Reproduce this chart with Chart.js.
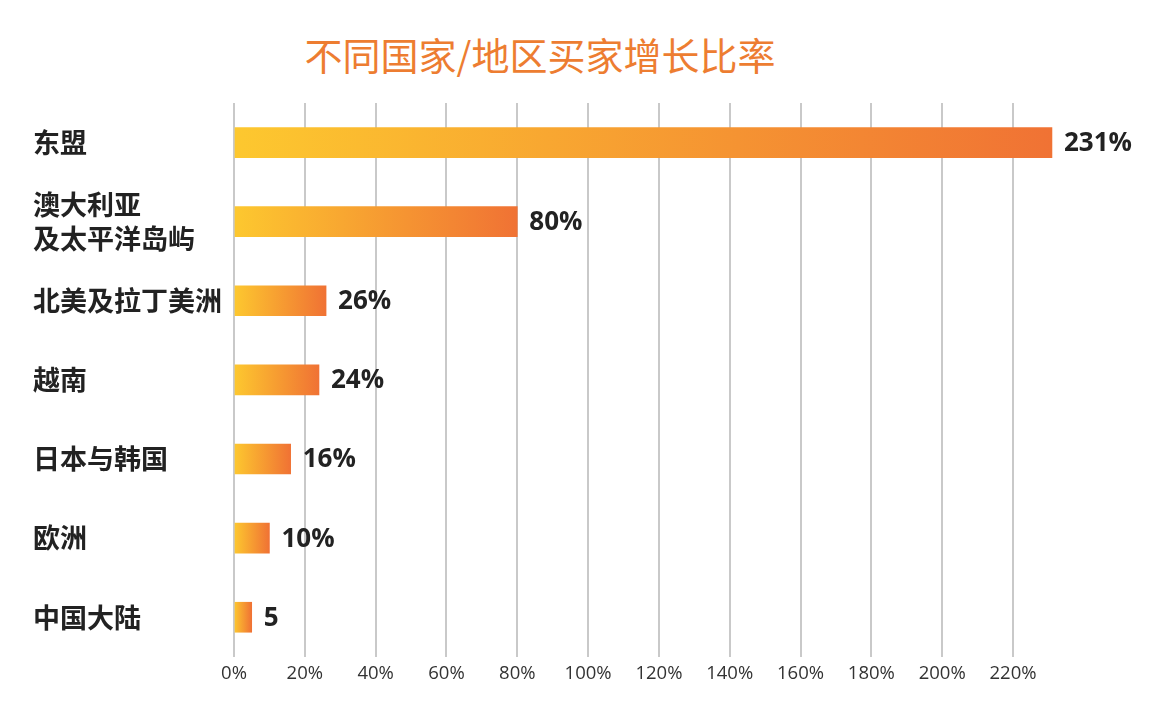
<!DOCTYPE html>
<html>
<head>
<meta charset="utf-8">
<script src="https://cdn.jsdelivr.net/npm/chart.js@4.4.1/dist/chart.umd.min.js"></script>
<style>
  html, body { margin: 0; padding: 0; background: #ffffff; }
  #wrap { position: relative; width: 1159px; height: 702px; }
  #title {
    position: absolute; left: 290px; width: 500px; top: 29px;
    text-align: center; font-family: "Noto Sans CJK SC", sans-serif;
    font-size: 38px; line-height: 50px; color: #ED7D31; font-weight: 400;
    white-space: nowrap;
  }
  canvas { position: absolute; left: 0; top: 0; }
</style>
</head>
<body>
<div id="wrap">
  <div id="title">不同国家/地区买家增长比率</div>
  <canvas id="c" width="1159" height="702"></canvas>
</div>
<script>
const categories = ['东盟', ['澳大利亚', '及太平洋岛屿'], '北美及拉丁美洲', '越南', '日本与韩国', '欧洲', '中国大陆'];
const growthValues = [231, 80, 26, 24, 16, 10, 5];
const valueLabels = ['231%', '80%', '26%', '24%', '16%', '10%', '5'];
const xTickMax = 220;
const xTickStep = 20;

const GRAD_START = '#FDC82F';
const GRAD_END = '#F07234';

function barGradient(context) {
  const chart = context.chart;
  const area = chart.chartArea;
  if (!area || context.type !== 'data') return GRAD_END;
  const xs = chart.scales.x;
  const x0 = xs.getPixelForValue(0);
  const x1 = xs.getPixelForValue(context.raw);
  if (!isFinite(x0) || !isFinite(x1) || x1 - x0 < 1) return GRAD_START;
  const g = chart.ctx.createLinearGradient(x0, 0, x1, 0);
  g.addColorStop(0, GRAD_START);
  g.addColorStop(1, GRAD_END);
  return g;
}

const valueLabelPlugin = {
  id: 'valueLabels',
  afterDatasetsDraw(chart) {
    const ctx = chart.ctx;
    const meta = chart.getDatasetMeta(0);
    ctx.save();
    ctx.font = 'bold 26px "Open Sans", "Noto Sans", sans-serif';
    ctx.fillStyle = '#222222';
    ctx.textAlign = 'left';
    ctx.textBaseline = 'middle';
    meta.data.forEach((el, i) => {
      ctx.fillText(valueLabels[i], el.x + 12, el.y + 1);
    });
    ctx.restore();
  }
};

new Chart(document.getElementById('c'), {
  type: 'bar',
  data: {
    labels: categories,
    datasets: [{
      data: growthValues,
      backgroundColor: barGradient,
      borderWidth: 0,
      barThickness: 30,
      clip: false
    }]
  },
  options: {
    indexAxis: 'y',
    responsive: false,
    animation: false,
    layout: { padding: { top: 103, left: 33, right: 146, bottom: 11 } },
    plugins: {
      legend: { display: false },
      title: { display: false },
      tooltip: { enabled: false }
    },
    scales: {
      x: {
        type: 'linear',
        min: 0,
        max: xTickMax,
        border: { display: false },
        grid: { display: true, color: '#c9c9c9', lineWidth: 2, drawTicks: false },
        ticks: {
          stepSize: xTickStep,
          padding: 6,
          color: '#333333',
          font: { family: '"Open Sans", "Noto Sans", sans-serif', size: 18.5 },
          callback: v => v + '%'
        }
      },
      y: {
        border: { display: false },
        grid: { display: false, drawTicks: false },
        afterFit(scale) { scale.width = 201; },
        ticks: {
          crossAlign: 'far',
          color: '#222222',
          font: { family: '"Noto Sans CJK SC", sans-serif', size: 27, weight: 'bold', lineHeight: 1.25 }
        }
      }
    }
  },
  plugins: [valueLabelPlugin]
});
</script>
</body>
</html>
